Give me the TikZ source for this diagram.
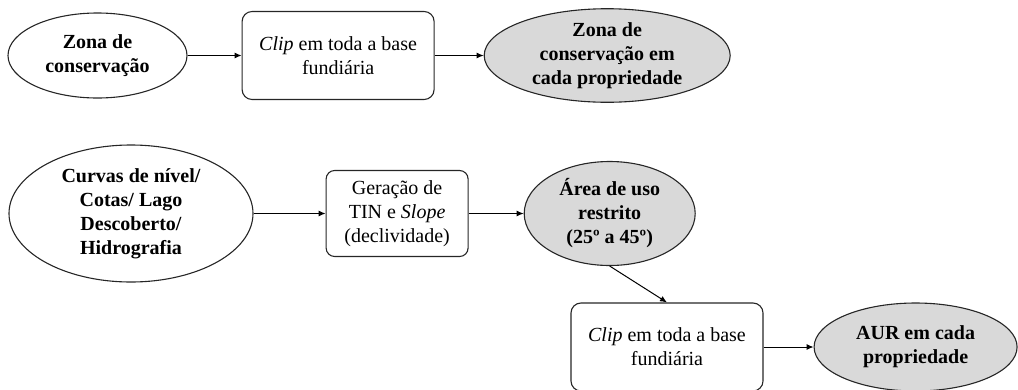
\documentclass[tikz,border=0pt]{standalone}
\usepackage{fontspec}
\setmainfont{Liberation Serif}
\usepackage{tikz}
\usetikzlibrary{positioning,shapes,arrows.meta}
\definecolor{shade}{HTML}{D9D9D9}
\definecolor{edge}{HTML}{262626}

\begin{document}
\begin{tikzpicture}[
  x=1pt, y=-1pt,
  >={Latex[length=7pt,width=6pt]},
  font=\fontsize{20}{24}\selectfont,
  oval/.style={
    draw=edge,
    shape=ellipse,
    line width=1.1pt,
    inner sep=0pt,
    align=center,
    font=\fontsize{20}{24}\selectfont\bfseries,
  },
  result/.style={
    oval,
    fill=shade,
  },
  block/.style={
    draw=edge,
    shape=rectangle,
    line width=1.1pt,
    rounded corners=3.5mm,
    align=center,
  },
  line/.style={
    line width=1pt,
    draw=black,
  }]
  \useasboundingbox (0,0) rectangle (1018,389);
  % top row
  \node[oval, minimum width=179, minimum height=85] (ZONA) at (97.5,55.5) {Zona de\\conservação};
  \node[block, minimum width=192, minimum height=88, right=54pt of ZONA] (CLIPA) {\textit{Clip} em toda a base\\fundiária};
  \node[result, minimum width=246, minimum height=92, right=49pt of CLIPA] (ZPROP) {Zona de\\conservação em\\cada propriedade};
  % bottom rows
  \node[oval, minimum width=244, minimum height=137] (CURV) at (131,213.5) {Curvas de nível/\\Cotas/ Lago\\Descoberto/\\Hidrografia};
  \node[block, minimum width=142, minimum height=86, rounded corners=3mm, right=72pt of CURV] (TIN) {Geração de\\TIN e \textit{Slope}\\(declividade)};
  \node[result, minimum width=171, minimum height=104, right=55pt of TIN] (AUR) {Área de uso\\restrito\\(25º a 45º)};
  \node[block, minimum width=192, minimum height=88] (CLIPB) at (667,347) {\textit{Clip} em toda a base\\fundiária};
  \node[result, minimum width=203, minimum height=88, right=50pt of CLIPB] (APROP) {AUR em cada\\propriedade};
  \draw[line, ->] (ZONA.east) -- (CLIPA.west);
  \draw[line, ->] (CLIPA.east) -- (ZPROP.west);
  \draw[line, ->] (CURV.east) -- (TIN.west);
  \draw[line, ->] (TIN.east) -- (AUR.west);
  \draw[line, ->] (AUR.south) -- (CLIPB.north);
  \draw[line, ->] (CLIPB.east) -- (APROP.west);
\end{tikzpicture}
\end{document}
